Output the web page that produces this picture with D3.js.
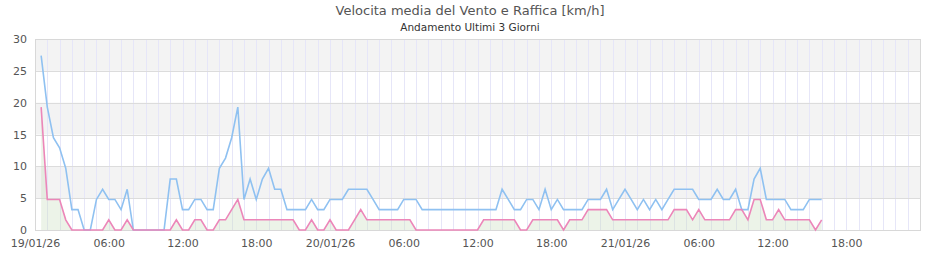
<!DOCTYPE html>
<html>
<head>
<meta charset="utf-8">
<script src="https://cdn.jsdelivr.net/npm/d3@7"></script>
<style>
  body { margin: 0; background: #fff; }
  text { font-family: "DejaVu Sans", sans-serif; }
</style>
</head>
<body>
<script>
// samples every 30 minutes, starting 19/01/26 00:30
var startTime = new Date(2026, 0, 19, 0, 30);
var stepMinutes = 30;

// raffica (gust) km/h
var gustValues = [
  27.4, 19.3, 14.5, 12.9, 9.7, 3.2, 3.2, 0, 0, 4.8,
  6.4, 4.8, 4.8, 3.2, 6.4, 0, 0, 0, 0, 0,
  0, 8.0, 8.0, 3.2, 3.2, 4.8, 4.8, 3.2, 3.2, 9.7,
  11.3, 14.5, 19.3, 4.8, 8.0, 4.8, 8.0, 9.7, 6.4, 6.4,
  3.2, 3.2, 3.2, 3.2, 4.8, 3.2, 3.2, 4.8, 4.8, 4.8,
  6.4, 6.4, 6.4, 6.4, 4.8, 3.2, 3.2, 3.2, 3.2, 4.8,
  4.8, 4.8, 3.2, 3.2, 3.2, 3.2, 3.2, 3.2, 3.2, 3.2,
  3.2, 3.2, 3.2, 3.2, 3.2, 6.4, 4.8, 3.2, 3.2, 4.8,
  4.8, 3.2, 6.4, 3.2, 4.8, 3.2, 3.2, 3.2, 3.2, 4.8,
  4.8, 4.8, 6.4, 3.2, 4.8, 6.4, 4.8, 3.2, 4.8, 3.2,
  4.8, 3.2, 4.8, 6.4, 6.4, 6.4, 6.4, 4.8, 4.8, 4.8,
  6.4, 4.8, 4.8, 6.4, 3.2, 3.2, 8.0, 9.7, 4.8, 4.8,
  4.8, 4.8, 3.2, 3.2, 3.2, 4.8, 4.8, 4.8
];

// velocita media km/h
var meanValues = [
  19.3, 4.8, 4.8, 4.8, 1.6, 0, 0, 0, 0, 0,
  0, 1.6, 0, 0, 1.6, 0, 0, 0, 0, 0,
  0, 0, 1.6, 0, 0, 1.6, 1.6, 0, 0, 1.6,
  1.6, 3.2, 4.8, 1.6, 1.6, 1.6, 1.6, 1.6, 1.6, 1.6,
  1.6, 1.6, 0, 0, 1.6, 0, 0, 1.6, 0, 0,
  0, 1.6, 3.2, 1.6, 1.6, 1.6, 1.6, 1.6, 1.6, 1.6,
  1.6, 0, 0, 0, 0, 0, 0, 0, 0, 0,
  0, 0, 1.6, 1.6, 1.6, 1.6, 1.6, 1.6, 0, 0,
  1.6, 1.6, 1.6, 1.6, 1.6, 0, 1.6, 1.6, 1.6, 3.2,
  3.2, 3.2, 3.2, 1.6, 1.6, 1.6, 1.6, 1.6, 1.6, 1.6,
  1.6, 1.6, 1.6, 3.2, 3.2, 3.2, 1.6, 3.2, 1.6, 1.6,
  1.6, 1.6, 1.6, 3.2, 3.2, 1.6, 4.8, 4.8, 1.6, 1.6,
  3.2, 1.6, 1.6, 1.6, 1.6, 1.6, 0, 1.6
];

var yTicks = [0, 5, 10, 15, 20, 25, 30];
var titleText = "Velocita media del Vento e Raffica [km/h]";
var subtitleText = "Andamento Ultimi 3 Giorni";

var svgWidth = 940;
var svgHeight = 260;

var margin = { top: 39, right: 20, bottom: 30, left: 35 };
var chartWidth = svgWidth - margin.left - margin.right;
var chartHeight = svgHeight - margin.top - margin.bottom;

var svg = d3.select("body")
    .append("svg")
    .attr("width", svgWidth)
    .attr("height", svgHeight);

var data = gustValues.map((g, i) => ({
    time: d3.timeMinute.offset(startTime, i * stepMinutes),
    gust: g,
    mean: meanValues[i]
}));

var xScale = d3.scaleTime()
    .domain([new Date(2026, 0, 19), new Date(2026, 0, 22)])
    .range([0, chartWidth]);

var yScale = d3.scaleLinear()
    .domain([0, 30])
    .range([chartHeight, 0]);

var chartGroup = svg.append("g")
    .attr("transform", `translate(${margin.left},${margin.top})`);

// alternate bands
yTicks.slice(0, -1).forEach((t, i) => {
    if (i % 2 == 1) {
        chartGroup.append("rect")
            .attr("x", 0)
            .attr("y", yScale(yTicks[i + 1]))
            .attr("width", chartWidth)
            .attr("height", yScale(t) - yScale(yTicks[i + 1]))
            .attr("fill", "#f3f3f3");
    }
});

// hourly vertical grid
chartGroup.append("g")
    .selectAll("line")
    .data(xScale.ticks(d3.timeHour.every(1)))
    .enter()
    .append("line")
    .attr("x1", d => Math.round(xScale(d)) + 0.5)
    .attr("x2", d => Math.round(xScale(d)) + 0.5)
    .attr("y1", 0)
    .attr("y2", chartHeight)
    .attr("stroke", "#e6e6f8")
    .attr("stroke-width", 1);

// horizontal grid
chartGroup.append("g")
    .selectAll("line")
    .data(yTicks)
    .enter()
    .append("line")
    .attr("x1", 0)
    .attr("x2", chartWidth)
    .attr("y1", d => Math.round(yScale(d)) + 0.5)
    .attr("y2", d => Math.round(yScale(d)) + 0.5)
    .attr("stroke", "#dcdcdc");

// frame
chartGroup.append("rect")
    .attr("x", 0.5)
    .attr("y", 0.5)
    .attr("width", chartWidth)
    .attr("height", chartHeight)
    .attr("fill", "none")
    .attr("stroke", "#d8d8d8");

// area under mean wind
var meanArea = d3.area()
    .x(d => xScale(d.time))
    .y0(yScale(0))
    .y1(d => yScale(d.mean));

chartGroup.append("path")
    .datum(data)
    .attr("d", meanArea)
    .attr("fill", "rgb(200,222,188)")
    .attr("opacity", 0.35);

var gustLine = d3.line()
    .x(d => xScale(d.time))
    .y(d => yScale(d.gust));

var meanLine = d3.line()
    .x(d => xScale(d.time))
    .y(d => yScale(d.mean));

chartGroup.append("path")
    .datum(data)
    .attr("d", gustLine)
    .attr("fill", "none")
    .attr("stroke", "#8fc1f1")
    .attr("stroke-width", 1.6);

chartGroup.append("path")
    .datum(data)
    .attr("d", meanLine)
    .attr("fill", "none")
    .attr("stroke", "#ec86b9")
    .attr("stroke-width", 1.6);

// y axis labels
var leftAxis = d3.axisLeft(yScale)
    .tickValues(yTicks)
    .tickSize(0)
    .tickPadding(8);

var yAxisGroup = chartGroup.append("g").call(leftAxis);
yAxisGroup.select(".domain").remove();
yAxisGroup.selectAll("text")
    .attr("fill", "#555")
    .style("font-size", "11px");

// x axis labels
var fmtDay = d3.timeFormat("%d/%m/%y");
var fmtHour = d3.timeFormat("%H:%M");
var bottomAxis = d3.axisBottom(xScale)
    .ticks(d3.timeHour.every(6))
    .tickSize(0)
    .tickPadding(9)
    .tickFormat(d => d.getHours() == 0 ? fmtDay(d) : fmtHour(d));

var xAxisGroup = chartGroup.append("g")
    .attr("transform", `translate(0, ${chartHeight})`)
    .call(bottomAxis);
xAxisGroup.select(".domain").remove();
xAxisGroup.selectAll("text")
    .attr("fill", "#555")
    .style("font-size", "11px");
xAxisGroup.selectAll("g.tick")
    .filter(d => d >= xScale.domain()[1])
    .remove();

// titles
svg.append("text")
    .attr("x", 470)
    .attr("y", 15)
    .attr("text-anchor", "middle")
    .attr("fill", "#555")
    .style("font-size", "13px")
    .text(titleText);

svg.append("text")
    .attr("x", 470)
    .attr("y", 31)
    .attr("text-anchor", "middle")
    .attr("fill", "#333")
    .style("font-size", "10.5px")
    .text(subtitleText);
</script>
</body>
</html>
